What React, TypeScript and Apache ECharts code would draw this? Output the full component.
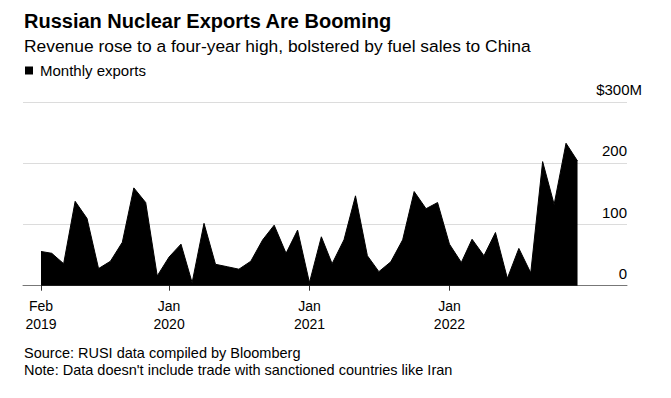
import React, { useEffect, useRef } from 'react';
import * as echarts from 'echarts';

const months = [
  '2019-02', '2019-03', '2019-04', '2019-05', '2019-06', '2019-07', '2019-08', '2019-09', '2019-10', '2019-11', '2019-12',
  '2020-01', '2020-02', '2020-03', '2020-04', '2020-05', '2020-06', '2020-07', '2020-08', '2020-09', '2020-10', '2020-11', '2020-12',
  '2021-01', '2021-02', '2021-03', '2021-04', '2021-05', '2021-06', '2021-07', '2021-08', '2021-09', '2021-10', '2021-11', '2021-12',
  '2022-01', '2022-02', '2022-03', '2022-04', '2022-05', '2022-06', '2022-07', '2022-08', '2022-09', '2022-10', '2022-11', '2022-12',
];

// Monthly exports, $M
const exportsValues = [
  56, 53, 36, 138, 110, 28, 40, 71, 160, 136, 16,
  47, 68, 5, 102, 35, 31, 27, 40, 75, 99, 53, 91,
  5, 80, 36, 75, 147, 49, 23, 39, 75, 154, 126, 136,
  68, 38, 76, 49, 87, 12, 61, 21, 203, 133, 233, 204,
];

const xTickMonths = ['2019-02', '2020-01', '2021-01', '2022-01'];
const yTickValues = [0, 100, 200, 300];
const seriesName = 'Monthly exports';
const titleText = 'Russian Nuclear Exports Are Booming';
const subtitleText = 'Revenue rose to a four-year high, bolstered by fuel sales to China';
const sourceText = 'Source: RUSI data compiled by Bloomberg';
const noteText = "Note: Data doesn't include trade with sanctioned countries like Iran";

const MONTH_NAMES = ['Jan', 'Feb', 'Mar', 'Apr', 'May', 'Jun', 'Jul', 'Aug', 'Sep', 'Oct', 'Nov', 'Dec'];
const toTs = (m: string) => {
  const [y, mo] = m.split('-').map(Number);
  return Date.UTC(y, mo - 1, 1);
};

export default function App() {
  const ref = useRef<HTMLDivElement>(null);
  useEffect(() => {
    const chart = echarts.init(ref.current!, null, { renderer: 'svg' });
    const font = '"Liberation Sans", Arial, Helvetica, sans-serif';
    const yMin = yTickValues[0];
    const yMax = yTickValues[yTickValues.length - 1];
    const yInterval = yTickValues[1] - yTickValues[0];
    const xTicks = xTickMonths.map(toTs);
    chart.setOption({
      animation: false,
      backgroundColor: '#fff',
      textStyle: { fontFamily: font },
      title: [
        {
          text: titleText, left: 19, top: 6,
          textStyle: { fontFamily: font, fontSize: 20, fontWeight: 'bold', color: '#000', lineHeight: 20 },
        },
        {
          text: subtitleText, left: 19, top: 32.5,
          textStyle: { fontFamily: font, fontSize: 17.4, fontWeight: 'normal', color: '#000', lineHeight: 17 },
        },
        {
          text: sourceText, left: 19, top: 340.5,
          textStyle: { fontFamily: font, fontSize: 14.5, fontWeight: 'normal', color: '#000', lineHeight: 14 },
        },
        {
          text: noteText, left: 19, top: 358,
          textStyle: { fontFamily: font, fontSize: 14.5, fontWeight: 'normal', color: '#000', lineHeight: 14 },
        },
      ],
      legend: {
        left: 20, top: 58,
        icon: 'rect', itemWidth: 8, itemHeight: 8,
        data: [seriesName],
        textStyle: { fontFamily: font, fontSize: 15, color: '#000', padding: [0, 0, 0, 2] },
        itemStyle: { color: '#000' },
      },
      grid: { left: 23, right: 44, top: 102.3, bottom: 112.3, containLabel: false },
      xAxis: {
        type: 'value',
        min: Date.UTC(2018, 11, 16),
        max: Date.UTC(2023, 3, 9),
        axisLine: { show: true, onZero: false, lineStyle: { color: '#777', width: 1 } },
        axisTick: {
          show: true, length: 5, inside: false,
          customValues: xTicks,
          lineStyle: { color: '#333', width: 1 },
        },
        axisLabel: {
          customValues: xTicks,
          showMinLabel: true, showMaxLabel: true,
          margin: 11,
          fontFamily: font, fontSize: 14, color: '#000', lineHeight: 18,
          align: 'center',
          formatter: (v: number) => {
            const d = new Date(v + 12 * 3600 * 1000);
            return MONTH_NAMES[d.getUTCMonth()] + '\n' + d.getUTCFullYear();
          },
        },
        splitLine: { show: false },
      },
      yAxis: [
        {
          type: 'value', position: 'right',
          min: yMin, max: yMax, interval: yInterval,
          axisLine: { show: false }, axisTick: { show: false },
          splitLine: { show: true, lineStyle: { color: '#dcdcdc', width: 1 } },
          axisLabel: {
            inside: true, margin: 0,
            fontFamily: font, fontSize: 15, color: '#000', lineHeight: 15,
            align: 'right', verticalAlign: 'bottom', padding: [0, 0, 5, 0],
            formatter: (v: number) => (v === yMax ? '' : String(v)),
          },
        },
        {
          type: 'value', position: 'right',
          min: yMin, max: yMax, interval: yInterval,
          axisLine: { show: false }, axisTick: { show: false },
          splitLine: { show: false },
          axisLabel: {
            inside: true, margin: -15,
            fontFamily: font, fontSize: 15, color: '#000', lineHeight: 15,
            align: 'right', verticalAlign: 'bottom', padding: [0, 0, 5, 0],
            formatter: (v: number) => (v === yMax ? '$' + v + 'M' : ''),
          },
        },
      ],
      series: [
        {
          name: seriesName,
          type: 'line',
          yAxisIndex: 0,
          data: months.map((m, i) => [toTs(m), exportsValues[i]]),
          showSymbol: false,
          symbol: 'none',
          lineStyle: { color: '#000', width: 1 },
          itemStyle: { color: '#000' },
          areaStyle: { color: '#000', opacity: 1 },
          z: 3,
        },
      ],
    });
    return () => chart.dispose();
  }, []);
  return <div ref={ref} style={{ position: 'fixed', left: 0, top: 0, width: 671, height: 398 }} />;
}
